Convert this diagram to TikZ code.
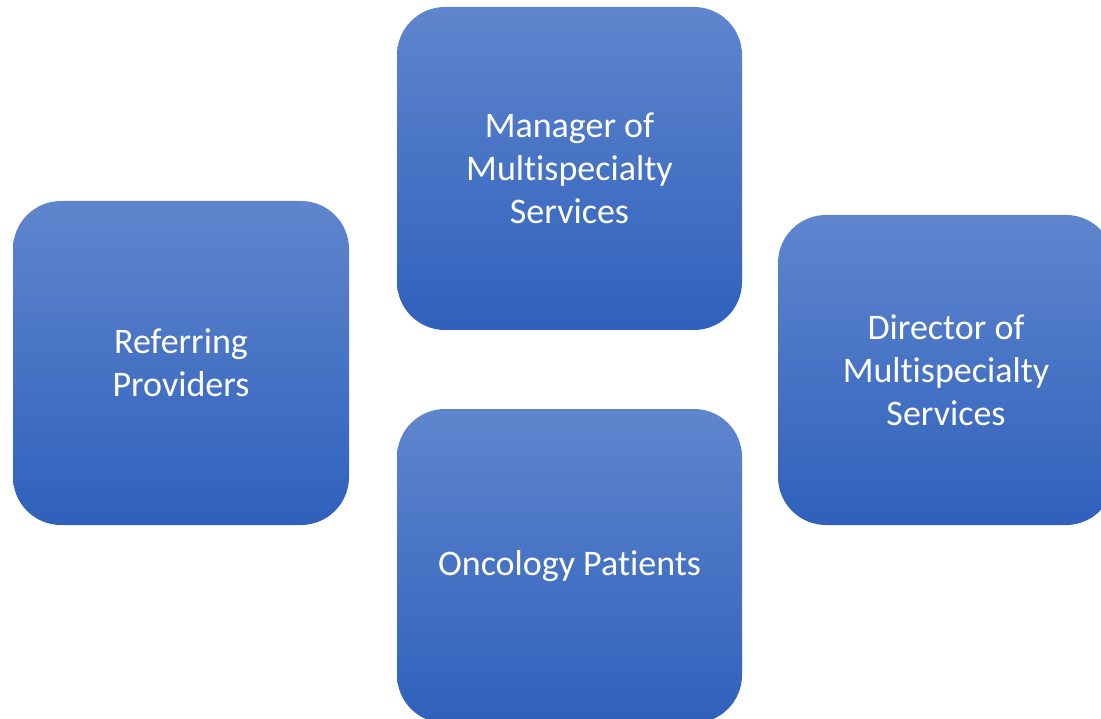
\documentclass[tikz,border=0pt]{standalone}
\usepackage{fontspec}
\setmainfont{Carlito}[Ligatures=CommonOff]
\usepackage{tikz}
\definecolor{boxtop}{HTML}{5F85CD}
\definecolor{boxbot}{HTML}{2F61BC}

\begin{document}
\begin{tikzpicture}[x=0.5pt,y=0.5pt,
  rolebox/.style={shade, top color=boxtop, bottom color=boxbot,
    rounded corners=24pt, inner sep=0pt, text=white, align=center,
    font=\fontsize{18}{21.5}\selectfont}]
\useasboundingbox (0,0) rectangle (1101,718);
\node[rolebox, minimum width=168pt, minimum height=162pt] (ref) at (181,355) {Referring\\Providers};
\node[rolebox, minimum width=172.5pt, minimum height=161.5pt] (mgr) at (569.5,549.5) {Manager of\\Multispecialty\\Services};
\node[rolebox, minimum width=168pt, minimum height=155pt] (dir) at (946,348) {Director of\\Multispecialty\\Services};
\node[rolebox, minimum width=172.5pt, minimum height=157pt] (pat) at (569.5,152) {Oncology Patients};
\end{tikzpicture}
\end{document}
